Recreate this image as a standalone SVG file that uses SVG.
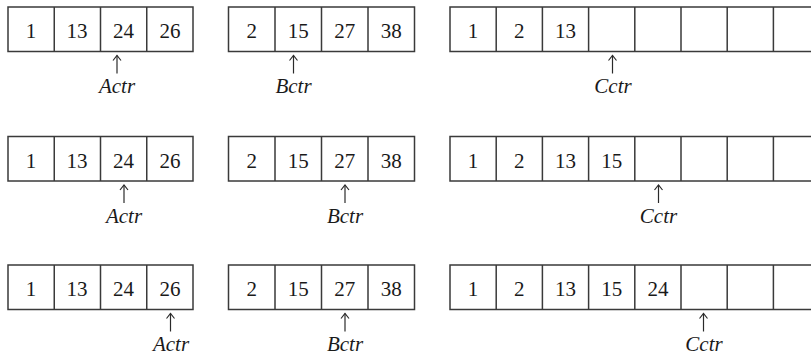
<svg xmlns="http://www.w3.org/2000/svg" width="811" height="356" viewBox="0 0 811 356">
<style>
  .box { fill: none; stroke: #3a3a3a; stroke-width: 1.5; }
  .num { font-family: "Liberation Serif", "Times New Roman", serif; font-size: 21px; fill: #1a1a1a; text-anchor: middle; }
  .lbl { font-family: "Liberation Serif", "Times New Roman", serif; font-size: 21px; font-style: italic; fill: #1a1a1a; text-anchor: middle; }
  .arr { stroke: #2a2a2a; stroke-width: 1.2; fill: none; marker-end: url(#head); }
</style>
<defs>
  <marker id="head" markerUnits="userSpaceOnUse" markerWidth="12" markerHeight="12" refX="6.5" refY="6" orient="auto">
    <path d="M1.5,2 L6.5,6 L1.5,10" fill="none" stroke="#2a2a2a" stroke-width="1.2"/>
  </marker>
</defs>
<rect width="811" height="356" fill="#ffffff"/>

<!-- Row 1 -->
<g id="A1">
  <rect class="box" x="8" y="7" width="185" height="44.5"/>
  <path class="box" d="M54.25,7V51.5M100.5,7V51.5M146.75,7V51.5"/>
  <text class="num" x="31" y="38">1</text>
  <text class="num" x="77" y="38">13</text>
  <text class="num" x="123.5" y="38">24</text>
  <text class="num" x="170" y="38">26</text>
</g>
<g id="B1">
  <rect class="box" x="228.5" y="7" width="186" height="44.5"/>
  <path class="box" d="M275,7V51.5M321.5,7V51.5M368,7V51.5"/>
  <text class="num" x="251.7" y="38">2</text>
  <text class="num" x="298.2" y="38">15</text>
  <text class="num" x="344.7" y="38">27</text>
  <text class="num" x="391.2" y="38">38</text>
</g>
<g id="C1">
  <rect class="box" x="450" y="7" width="380" height="44.5"/>
  <path class="box" d="M496.2,7V51.5M542.4,7V51.5M588.6,7V51.5M634.8,7V51.5M681,7V51.5M727.2,7V51.5M773.4,7V51.5"/>
  <text class="num" x="473.1" y="38">1</text>
  <text class="num" x="519.3" y="38">2</text>
  <text class="num" x="565.5" y="38">13</text>
</g>
<g id="Actr1"><text class="lbl" x="117" y="93">Actr</text></g>
<g id="Bctr1"><text class="lbl" x="293.5" y="93">Bctr</text></g>
<g id="Cctr1"><text class="lbl" x="613" y="93">Cctr</text></g>

<!-- Row 2 -->
<g id="A2">
  <rect class="box" x="8" y="136.5" width="185" height="44.5"/>
  <path class="box" d="M54.25,136.5V181M100.5,136.5V181M146.75,136.5V181"/>
  <text class="num" x="31" y="167.5">1</text>
  <text class="num" x="77" y="167.5">13</text>
  <text class="num" x="123.5" y="167.5">24</text>
  <text class="num" x="170" y="167.5">26</text>
</g>
<g id="B2">
  <rect class="box" x="228.5" y="136.5" width="186" height="44.5"/>
  <path class="box" d="M275,136.5V181M321.5,136.5V181M368,136.5V181"/>
  <text class="num" x="251.7" y="167.5">2</text>
  <text class="num" x="298.2" y="167.5">15</text>
  <text class="num" x="344.7" y="167.5">27</text>
  <text class="num" x="391.2" y="167.5">38</text>
</g>
<g id="C2">
  <rect class="box" x="450" y="136.5" width="380" height="44.5"/>
  <path class="box" d="M496.2,136.5V181M542.4,136.5V181M588.6,136.5V181M634.8,136.5V181M681,136.5V181M727.2,136.5V181M773.4,136.5V181"/>
  <text class="num" x="473.1" y="167.5">1</text>
  <text class="num" x="519.3" y="167.5">2</text>
  <text class="num" x="565.5" y="167.5">13</text>
  <text class="num" x="611.7" y="167.5">15</text>
</g>
<g id="Actr2"><text class="lbl" x="124" y="222.5">Actr</text></g>
<g id="Bctr2"><text class="lbl" x="345" y="222.5">Bctr</text></g>
<g id="Cctr2"><text class="lbl" x="658.5" y="222.5">Cctr</text></g>

<!-- Row 3 -->
<g id="A3">
  <rect class="box" x="8" y="265" width="185" height="44.5"/>
  <path class="box" d="M54.25,265V309.5M100.5,265V309.5M146.75,265V309.5"/>
  <text class="num" x="31" y="296">1</text>
  <text class="num" x="77" y="296">13</text>
  <text class="num" x="123.5" y="296">24</text>
  <text class="num" x="170" y="296">26</text>
</g>
<g id="B3">
  <rect class="box" x="228.5" y="265" width="186" height="44.5"/>
  <path class="box" d="M275,265V309.5M321.5,265V309.5M368,265V309.5"/>
  <text class="num" x="251.7" y="296">2</text>
  <text class="num" x="298.2" y="296">15</text>
  <text class="num" x="344.7" y="296">27</text>
  <text class="num" x="391.2" y="296">38</text>
</g>
<g id="C3">
  <rect class="box" x="450" y="265" width="380" height="44.5"/>
  <path class="box" d="M496.2,265V309.5M542.4,265V309.5M588.6,265V309.5M634.8,265V309.5M681,265V309.5M727.2,265V309.5M773.4,265V309.5"/>
  <text class="num" x="473.1" y="296">1</text>
  <text class="num" x="519.3" y="296">2</text>
  <text class="num" x="565.5" y="296">13</text>
  <text class="num" x="611.7" y="296">15</text>
  <text class="num" x="657.9" y="296">24</text>
</g>
<g id="Actr3"><text class="lbl" x="171" y="351">Actr</text></g>
<g id="Bctr3"><text class="lbl" x="345" y="351">Bctr</text></g>
<g id="Cctr3"><text class="lbl" x="704" y="351">Cctr</text></g>

<g id="connectors">
  <line class="arr" x1="117" y1="73.5" x2="117" y2="55.5"/>
  <line class="arr" x1="293.5" y1="73.5" x2="293.5" y2="55.5"/>
  <line class="arr" x1="612.5" y1="73.5" x2="612.5" y2="55.5"/>
  <line class="arr" x1="124" y1="203" x2="124" y2="185"/>
  <line class="arr" x1="345" y1="203" x2="345" y2="185"/>
  <line class="arr" x1="658.5" y1="203" x2="658.5" y2="185"/>
  <line class="arr" x1="170.5" y1="331.5" x2="170.5" y2="313.5"/>
  <line class="arr" x1="345" y1="331.5" x2="345" y2="313.5"/>
  <line class="arr" x1="703.5" y1="331.5" x2="703.5" y2="313.5"/>
</g>
</svg>
